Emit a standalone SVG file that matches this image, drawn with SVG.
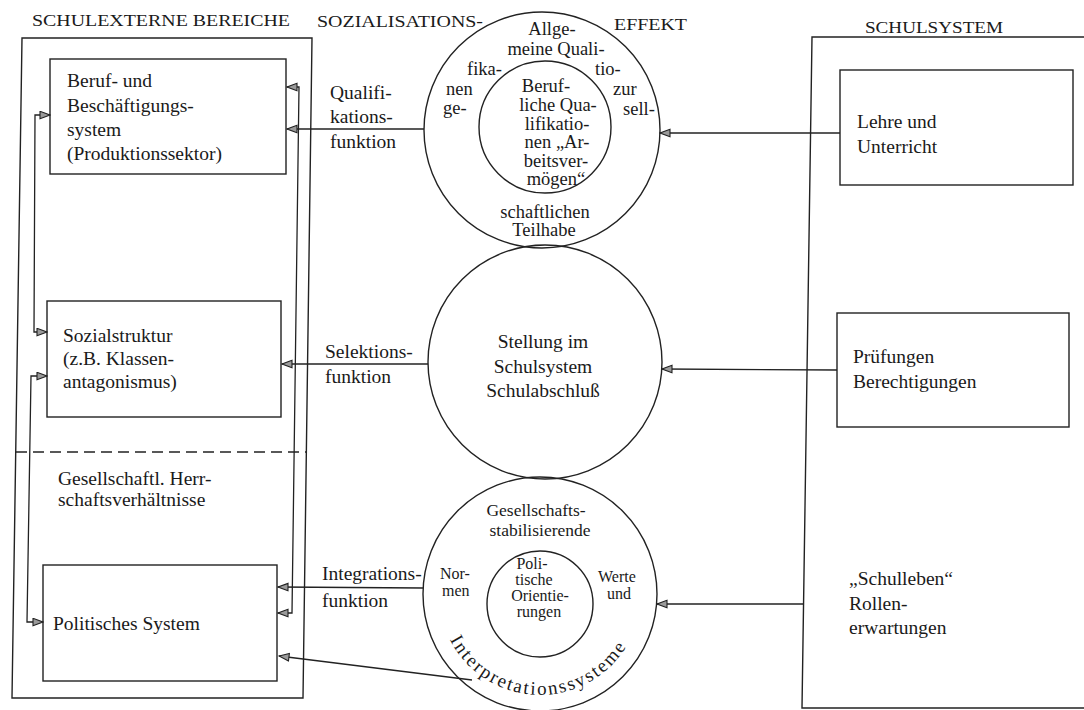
<svg xmlns="http://www.w3.org/2000/svg" width="1084" height="710" viewBox="0 0 1084 710">
<style>
text{font-family:"Liberation Serif","Times New Roman",serif;fill:#1a1a1a}
.h{font-size:17px}
.t{font-size:19.5px}
.c{font-size:18.5px}
.s{font-size:17.5px}
.u{font-size:16px}
.m{text-anchor:middle}
.ln{fill:none;stroke:#222;stroke-width:1.3}
.bx{fill:none;stroke:#222;stroke-width:1.4}
.cn{fill:none;stroke:#222;stroke-width:1.3;marker-end:url(#ah)}
.cb{fill:none;stroke:#222;stroke-width:1.3;marker-start:url(#ahs);marker-end:url(#ah)}
</style>
<defs>
<marker id="ah" markerUnits="userSpaceOnUse" markerWidth="12" markerHeight="10" refX="11" refY="4.5" orient="auto">
<path d="M1,0.8 L11,4.5 L1,8.2 Z" fill="#9a9a9a" stroke="#222" stroke-width="1.1"/>
</marker>
<marker id="ahs" markerUnits="userSpaceOnUse" markerWidth="12" markerHeight="10" refX="11" refY="4.5" orient="auto-start-reverse">
<path d="M1,0.8 L11,4.5 L1,8.2 Z" fill="#9a9a9a" stroke="#222" stroke-width="1.1"/>
</marker>
<path id="arcB" d="M439,594 A101,101 0 0 0 641,594"/>
</defs>
<rect width="1084" height="710" fill="#fff"/>

<g id="headings">
<text class="h" x="32" y="26" textLength="258" lengthAdjust="spacingAndGlyphs">SCHULEXTERNE BEREICHE</text>
<text class="h" x="317" y="27" textLength="166" lengthAdjust="spacingAndGlyphs">SOZIALISATIONS-</text>
<text class="h" x="614" y="30" textLength="73" lengthAdjust="spacingAndGlyphs">EFFEKT</text>
<text class="h" x="865" y="33" textLength="138" lengthAdjust="spacingAndGlyphs">SCHULSYSTEM</text>
</g>

<g id="schulexterne-bereiche">
<path class="bx" d="M22,38 L312,38 L303,698 L12,698 Z"/>
<path class="ln" d="M16,452 L307,452" stroke-dasharray="11,6"/>
<text class="t" x="58" y="485">Gesellschaftl. Herr-</text>
<text class="t" x="58" y="506">schaftsverhältnisse</text>
</g>

<g id="beruf">
<rect class="bx" x="50" y="59" width="236" height="115"/>
<text class="t" x="67" y="87">Beruf- und</text>
<text class="t" x="67" y="112">Beschäftigungs-</text>
<text class="t" x="67" y="136">system</text>
<text class="t" x="67" y="160">(Produktionssektor)</text>
</g>

<g id="sozialstruktur">
<rect class="bx" x="47" y="301" width="234" height="116"/>
<text class="t" x="63" y="342">Sozialstruktur</text>
<text class="t" x="63" y="365">(z.B. Klassen-</text>
<text class="t" x="63" y="388">antagonismus)</text>
</g>

<g id="politisches-system">
<rect class="bx" x="43" y="565" width="234" height="116"/>
<text class="t" x="53" y="630">Politisches System</text>
</g>

<g id="schulsystem">
<path class="bx" d="M1084,37 L812,37 L802,708 L1084,708"/>
</g>

<g id="lehre">
<rect class="bx" x="840" y="70" width="233" height="115"/>
<text class="t" x="857" y="128">Lehre und</text>
<text class="t" x="857" y="153">Unterricht</text>
</g>

<g id="pruefungen">
<rect class="bx" x="837" y="313" width="232" height="114"/>
<text class="t" x="853" y="363">Prüfungen</text>
<text class="t" x="853" y="388">Berechtigungen</text>
</g>

<g id="schulleben">
<text class="t" x="849" y="585">„Schulleben“</text>
<text class="t" x="849" y="610">Rollen-</text>
<text class="t" x="849" y="634">erwartungen</text>
</g>

<g id="qualifikation-circle">
<circle class="bx" cx="542" cy="130" r="118"/>
<circle class="bx" cx="545" cy="127" r="66"/>
<text class="c m" x="552" y="35">Allge-</text>
<text class="c m" x="556" y="55">meine Quali-</text>
<text class="c" x="467" y="75">fika-</text>
<text class="c" x="595" y="75">tio-</text>
<text class="c" x="446" y="95">nen</text>
<text class="c" x="613" y="95">zur</text>
<text class="c" x="443" y="114">ge-</text>
<text class="c" x="623" y="115">sell-</text>
<text class="c m" x="545" y="218">schaftlichen</text>
<text class="c m" x="544" y="236">Teilhabe</text>
<text class="c m" x="546" y="92">Beruf-</text>
<text class="c m" x="558" y="111">liche Qua-</text>
<text class="c m" x="557" y="130">lifikatio-</text>
<text class="c m" x="557" y="148">nen „Ar-</text>
<text class="c m" x="556" y="167">beitsver-</text>
<text class="c m" x="556" y="185">mögen“</text>
</g>

<g id="selektion-circle">
<circle class="bx" cx="545" cy="362" r="117"/>
<text class="t m" x="543" y="348">Stellung im</text>
<text class="t m" x="543" y="373">Schulsystem</text>
<text class="t m" x="543" y="397">Schulabschluß</text>
</g>

<g id="integration-circle">
<circle class="bx" cx="540" cy="594" r="117"/>
<circle class="bx" cx="540" cy="604" r="53"/>
<text class="s m" x="536" y="516">Gesellschafts-</text>
<text class="s m" x="540" y="536">stabilisierende</text>
<text class="u" x="440" y="579">Nor-</text>
<text class="u" x="442" y="596">men</text>
<text class="u" x="598" y="582">Werte</text>
<text class="u" x="607" y="599">und</text>
<text class="u m" x="532" y="569">Poli-</text>
<text class="u m" x="534" y="585">tische</text>
<text class="u m" x="540" y="601">Orientie-</text>
<text class="u m" x="539" y="617">rungen</text>
<text font-size="19" letter-spacing="2"><textPath href="#arcB" startOffset="49%" text-anchor="middle">Interpretationssysteme</textPath></text>
</g>

<g id="connectors">
<path class="cb" d="M50,115 L35,115 L34,332 L47,332"/>
<path class="cb" d="M47,376 L31,376 L27,622 L43,622"/>
<path class="cb" d="M287,87 L299,87 L292,613 L278,613"/>
<path class="cn" d="M424,129 L287,129"/>
<path class="cn" d="M840,133 L660,133"/>
<path class="cn" d="M428,364 L282,364"/>
<path class="cn" d="M837,370 L662,369"/>
<path class="cn" d="M423,588 L278,587"/>
<path class="cn" d="M803,604 L657,604"/>
<path class="cn" d="M472,680 L279,656"/>
</g>
<g id="labels">
<text class="t" x="330" y="99">Qualifi-</text>
<text class="t" x="330" y="123">kations-</text>
<text class="t" x="330" y="148">funktion</text>
<text class="t" x="325" y="358">Selektions-</text>
<text class="t" x="325" y="383">funktion</text>
<text class="t" x="322" y="580">Integrations-</text>
<text class="t" x="322" y="607">funktion</text>
</g>
</svg>
